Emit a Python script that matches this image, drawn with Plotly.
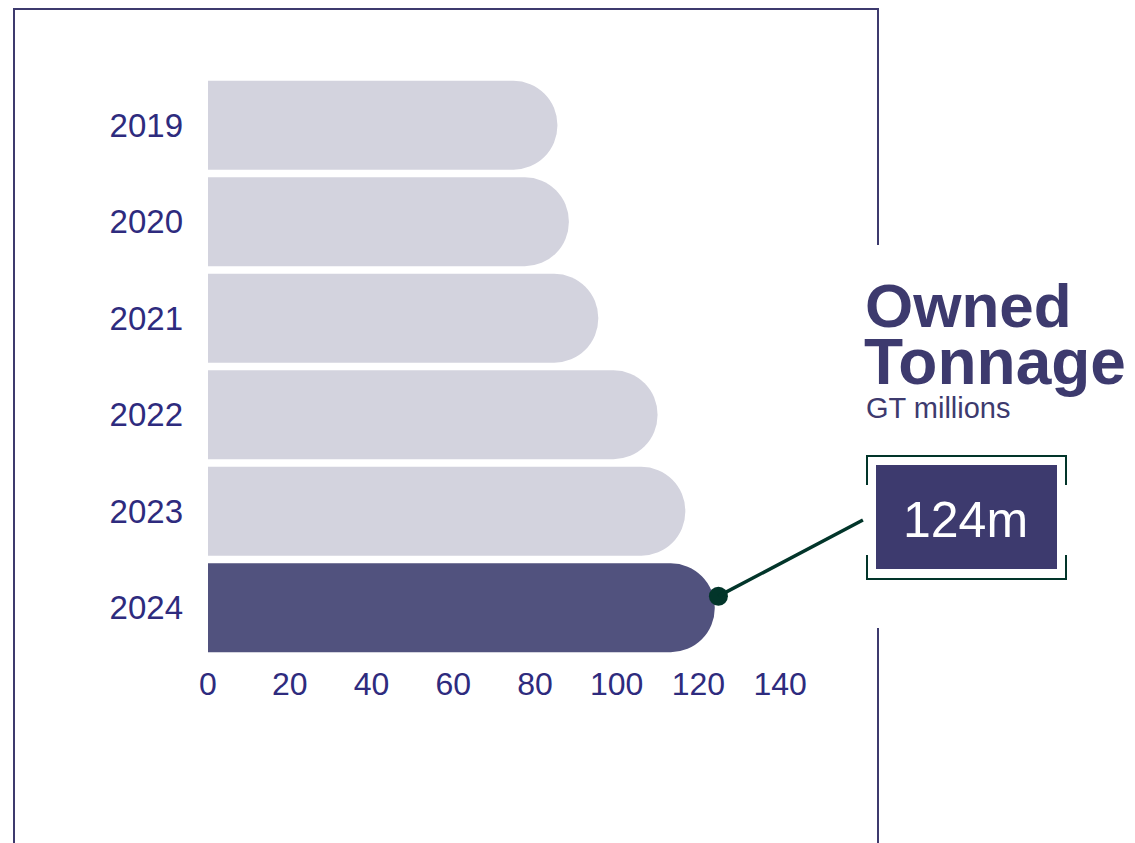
import plotly.graph_objects as go

# ---- data ----
years = ["2019", "2020", "2021", "2022", "2023", "2024"]
tonnage = [85.5, 88.3, 95.5, 110.0, 116.8, 124.0]
x_ticks = [0, 20, 40, 60, 80, 100, 120, 140]
title_line1 = "Owned"
title_line2 = "Tonnage"
unit_label = "GT millions"

# ---- style ----
W_FIG, H_FIG = 1135, 843
OFF = 8                      # page body margin
L, T, PW, PH = 208, 77, 613, 579   # plot area in screen pixels
XMAX = 150
LIGHT = "#D3D3DE"
DARK = "#51527E"
NAVY = "#3D3A6E"
TICK = "#2E2B7E"
GREEN = "#02352A"
FONT = "Liberation Sans, Arial, sans-serif"


def px(x):
    return (x - L) / PW


def py(y):
    return 1 - (y - T) / PH


pos = list(range(len(years)))
colors = [LIGHT] * (len(years) - 1) + [DARK]

fig = go.Figure()
fig.add_trace(go.Bar(
    x=tonnage, y=pos, orientation="h",
    marker=dict(color=colors, cornerradius="50%", line=dict(width=0)),
    hoverinfo="skip",
))

last = len(years) - 1
dot_x = tonnage[last] + 0.9
dot_y = last - 0.12
fig.add_trace(go.Scatter(
    x=[dot_x], y=[dot_y], mode="markers",
    marker=dict(color=GREEN, size=19), cliponaxis=False, hoverinfo="skip",
))

shapes = []
frame = dict(type="line", xref="paper", yref="paper", line=dict(color=NAVY, width=2))
shapes.append({**frame, "x0": px(14), "x1": px(14), "y0": py(9), "y1": py(860)})
shapes.append({**frame, "x0": px(13), "x1": px(879), "y0": py(9), "y1": py(9)})
shapes.append({**frame, "x0": px(878), "x1": px(878), "y0": py(9), "y1": py(245)})
shapes.append({**frame, "x0": px(878), "x1": px(878), "y0": py(628), "y1": py(860)})

# value box
shapes.append(dict(type="rect", xref="paper", yref="paper",
                   x0=px(876), x1=px(1057), y0=py(465), y1=py(569),
                   fillcolor=NAVY, line=dict(width=0)))
br = dict(type="path", xref="paper", yref="paper", line=dict(color=GREEN, width=2))
shapes.append({**br, "path": f"M {px(867)} {py(485)} L {px(867)} {py(456)} L {px(1066)} {py(456)} L {px(1066)} {py(485)}"})
shapes.append({**br, "path": f"M {px(867)} {py(555)} L {px(867)} {py(579)} L {px(1066)} {py(579)} L {px(1066)} {py(555)}"})

annotations = [
    dict(x=dot_x, y=dot_y, xref="x", yref="y",
         ax=146, ay=-77, axref="pixel", ayref="pixel",
         showarrow=True, arrowhead=0, arrowwidth=3.5, arrowcolor=GREEN, text=""),
    dict(x=px(863), y=py(306), xref="paper", yref="paper", xanchor="left", yanchor="middle",
         text=f"<b>{title_line1}</b>", showarrow=False, font=dict(family=FONT, size=62, color=NAVY)),
    dict(x=px(862), y=py(362), xref="paper", yref="paper", xanchor="left", yanchor="middle",
         text=f"<b>{title_line2}</b>", showarrow=False, font=dict(family=FONT, size=64, color=NAVY)),
    dict(x=px(864), y=py(408), xref="paper", yref="paper", xanchor="left", yanchor="middle",
         text=unit_label, showarrow=False, font=dict(family=FONT, size=29, color=NAVY)),
    dict(x=px(965), y=py(520), xref="paper", yref="paper", xanchor="center", yanchor="middle",
         text=f"{tonnage[last]:.0f}m", showarrow=False, font=dict(family=FONT, size=50, color="white")),
]

fig.update_layout(
    width=W_FIG, height=H_FIG,
    margin=dict(l=L - OFF, r=W_FIG - (L - OFF) - PW, t=T - OFF, b=H_FIG - (T - OFF) - PH, pad=0),
    paper_bgcolor="white", plot_bgcolor="white",
    showlegend=False, bargap=0.079,
    shapes=shapes, annotations=annotations,
    xaxis=dict(range=[0, XMAX], tickvals=x_ticks, showgrid=False, zeroline=False,
               showline=False, ticks="", tickfont=dict(family=FONT, size=32, color=TICK),
               ticklabelstandoff=6),
    yaxis=dict(range=[len(years) - 0.5, -0.5], tickvals=pos, ticktext=years,
               showgrid=False, zeroline=False, showline=False, ticks="",
               tickfont=dict(family=FONT, size=33, color=TICK), ticklabelstandoff=24),
)

fig.write_html("out.html")
